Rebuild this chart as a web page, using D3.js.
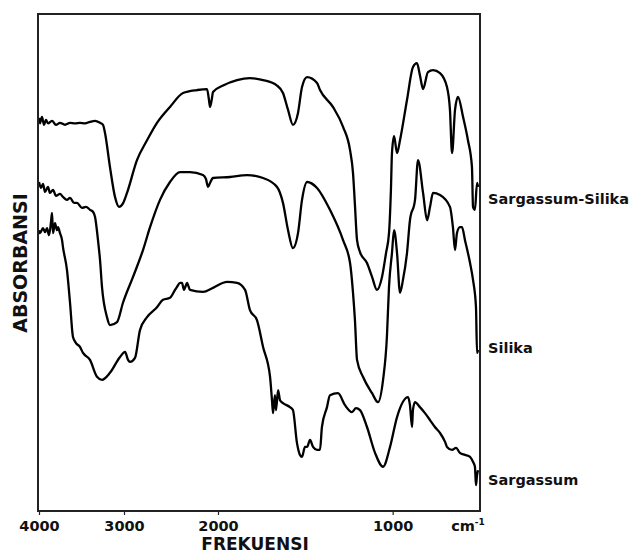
<!DOCTYPE html>
<meta charset="utf-8">
<script src="https://d3js.org/d3.v7.min.js"></script>
<style>
body { margin: 0; background: #fff; }
text { font-family: "DejaVu Sans", Verdana, sans-serif; font-weight: bold; fill: #111; }
.axis .domain { display: none; }
.axis line { stroke: #222; stroke-width: 1.2; }
</style>
<body>
<div id="canvas"></div>
<script>

// wavenumber (cm-1) ticks shown under the plot
var tickValues = [4000, 3000, 2000, 1000];
var seriesNames = ["Sargassum-Silika", "Silika", "Sargassum"];

// [wavenumber, absorbance (arbitrary units)]
var sargassumSilika = [[4000,79.1],[3988,78.0],[3965,79.3],[3941,77.7],[3918,78.7],[3894,78.0],[3847,78.5],[3800,77.7],[3753,78.1],[3694,77.7],[3635,78.1],[3576,78.0],[3518,78.1],[3459,78.0],[3400,78.3],[3341,78.5],[3282,78.1],[3247,77.7],[3224,76.1],[3165,69.2],[3106,63.2],[3059,61.2],[3012,61.9],[2968,64.0],[2862,70.6],[2755,74.6],[2649,78.1],[2511,81.3],[2372,84.1],[2223,84.7],[2117,84.9],[2096,82.7],[2085,81.3],[2064,83.1],[2053,84.3],[1971,85.6],[1891,86.7],[1817,87.1],[1742,86.7],[1662,85.6],[1628,84.1],[1599,80.7],[1571,77.7],[1542,80.1],[1519,85.3],[1490,87.3],[1433,86.1],[1416,84.7],[1342,81.3],[1284,77.3],[1244,72.6],[1227,68.0],[1216,61.6],[1204,54.5],[1187,52.1],[1147,49.9],[1118,47.1],[1090,44.5],[1061,47.1],[1038,51.9],[1021,55.9],[1010,64.6],[1004,72.0],[992,75.4],[975,72.0],[958,74.6],[918,82.7],[884,89.3],[861,90.1],[844,87.7],[826,84.9],[798,88.3],[769,88.7],[729,88.1],[689,85.3],[672,80.7],[660,72.0],[643,80.7],[626,83.3],[597,79.3],[569,74.6],[546,69.2],[540,61.2],[529,60.6],[517,66.0],[511,65.2]];

var silika = [[4000,66.2],[3976,65.0],[3953,65.8],[3929,64.2],[3894,65.2],[3871,64.0],[3835,64.6],[3800,63.4],[3753,63.8],[3718,63.2],[3671,62.6],[3635,63.0],[3588,62.0],[3553,62.0],[3494,61.0],[3447,61.2],[3400,60.6],[3365,60.2],[3341,59.2],[3306,54.5],[3282,50.5],[3259,45.1],[3200,39.0],[3165,37.4],[3082,38.0],[3012,41.9],[2904,47.1],[2798,52.5],[2723,57.1],[2617,62.6],[2511,66.2],[2404,68.2],[2298,68.2],[2160,67.6],[2128,66.8],[2106,65.2],[2085,66.0],[2053,67.0],[1931,67.2],[1834,67.6],[1742,67.0],[1662,65.2],[1628,62.0],[1599,56.5],[1571,52.9],[1542,55.9],[1519,62.6],[1490,66.2],[1433,65.0],[1359,60.6],[1284,54.5],[1244,49.9],[1227,43.9],[1216,38.4],[1204,30.4],[1170,27.0],[1118,23.7],[1084,21.9],[1055,26.4],[1033,35.0],[1021,45.1],[1004,51.9],[992,56.5],[975,51.9],[958,43.9],[941,46.5],[918,51.9],[901,58.5],[872,62.6],[855,70.6],[826,64.0],[803,58.5],[786,61.2],[769,64.0],[729,63.6],[672,61.2],[655,57.1],[643,52.5],[632,55.9],[615,57.1],[603,57.1],[586,54.5],[557,49.9],[540,46.5],[523,41.0],[517,31.8],[511,32.4]];

var sargassum = [[4000,56.5],[3988,55.9],[3953,56.9],[3929,56.1],[3906,56.9],[3882,55.5],[3859,58.1],[3847,60.0],[3835,55.9],[3812,57.9],[3788,56.5],[3776,57.1],[3753,55.9],[3729,54.5],[3718,53.1],[3671,48.5],[3635,41.9],[3600,35.0],[3565,33.8],[3518,33.0],[3482,31.8],[3400,30.4],[3318,27.0],[3259,26.4],[3165,27.8],[3047,31.0],[2989,32.0],[2957,30.4],[2936,30.0],[2883,30.8],[2830,36.4],[2755,39.0],[2649,41.0],[2585,42.5],[2511,42.9],[2457,44.5],[2436,45.1],[2404,45.9],[2383,45.9],[2362,44.5],[2351,44.9],[2330,45.9],[2298,44.5],[2160,44.1],[2053,44.9],[1948,46.1],[1891,45.9],[1845,44.5],[1817,40.4],[1777,38.4],[1742,33.0],[1702,27.0],[1691,22.3],[1685,19.7],[1674,23.3],[1668,20.3],[1656,24.3],[1645,22.3],[1628,21.7],[1588,20.9],[1571,20.3],[1548,13.7],[1531,11.3],[1519,10.9],[1502,12.9],[1490,12.9],[1473,14.3],[1456,12.9],[1433,12.3],[1416,12.3],[1405,16.9],[1376,20.9],[1359,23.3],[1313,23.7],[1273,21.3],[1233,19.9],[1210,20.7],[1187,20.3],[1147,16.9],[1101,11.7],[1055,8.9],[1015,12.9],[975,18.9],[912,22.9],[901,21.3],[889,16.9],[884,20.3],[872,21.9],[844,20.9],[815,19.7],[786,18.3],[758,16.9],[729,15.7],[700,13.9],[689,12.9],[660,12.3],[637,12.7],[615,11.7],[586,11.3],[557,10.9],[540,9.9],[529,8.9],[523,5.2],[517,7.2],[511,8.2]];

var allSeries = [sargassumSilika, silika, sargassum];

var width = 633, height = 554;
var margin = {top: 14, right: 153, bottom: 43, left: 38};
var plotW = width - margin.left - margin.right;   // 442
var plotH = height - margin.top - margin.bottom;  // 497

var svg = d3.select("#canvas").append("svg")
    .attr("width", width)
    .attr("height", height);

var g = svg.append("g")
    .attr("transform", "translate(" + margin.left + "," + margin.top + ")");

// the spectrum is drawn with an expanded scale below 2000 cm-1
var x = d3.scaleLinear()
    .domain([4000, 3000, 2000, 500])
    .range([1, 86, 180, plotW]);
var y = d3.scaleLinear()
    .domain([0, 100])
    .range([plotH, 0]);

// axis with just the ticks and labels, the frame draws the line
var xAxis = d3.axisBottom(x)
    .tickValues(tickValues)
    .tickSize(4)
    .tickPadding(6)
    .tickFormat(d3.format("d"));
g.append("g")
    .attr("class", "axis")
    .attr("transform", "translate(0," + plotH + ")")
    .call(xAxis)
    .selectAll("text")
    .style("font-size", "14.5px")
    .style("font-family", "'DejaVu Sans', Verdana, sans-serif")
    .style("font-weight", "bold")
    .attr("fill", "#111");

// unit label at the right end of the axis
var unit = g.append("text")
    .attr("x", plotW - 12)
    .attr("y", plotH + 20)
    .attr("text-anchor", "middle")
    .style("font-size", "14.5px");
unit.append("tspan").text("cm");
unit.append("tspan").attr("dy", -6).style("font-size", "9px").text("-1");

// curves
var line = d3.line()
    .curve(d3.curveMonotoneX)
    .x(function(d) { return x(d[0]); })
    .y(function(d) { return y(d[1]); });

g.selectAll(".spectrum")
    .data(allSeries)
    .enter()
    .append("path")
    .attr("class", "spectrum")
    .attr("d", line)
    .attr("fill", "none")
    .attr("stroke", "#000")
    .attr("stroke-width", 2.3)
    .attr("stroke-linejoin", "round");

// names beside the right end of each curve
var labelShift = [17, 3, 15];
g.selectAll(".name")
    .data(seriesNames)
    .enter()
    .append("text")
    .attr("class", "name")
    .attr("x", plotW + 8)
    .attr("y", function(d, i) {
        var s = allSeries[i];
        return y(s[s.length - 1][1]) + labelShift[i];
    })
    .style("font-size", "14.5px")
    .text(function(d) { return d; });

// frame
g.append("rect")
    .attr("x", 0)
    .attr("y", 0)
    .attr("width", plotW)
    .attr("height", plotH)
    .attr("fill", "none")
    .attr("stroke", "#222")
    .attr("stroke-width", 2);

// axis titles
svg.append("text")
    .attr("transform", "translate(27,263) rotate(-90)")
    .attr("text-anchor", "middle")
    .style("font-size", "19px")
    .text("ABSORBANSI");

svg.append("text")
    .attr("x", 255)
    .attr("y", 550)
    .attr("text-anchor", "middle")
    .style("font-size", "17px")
    .text("FREKUENSI");

</script>
</body>
